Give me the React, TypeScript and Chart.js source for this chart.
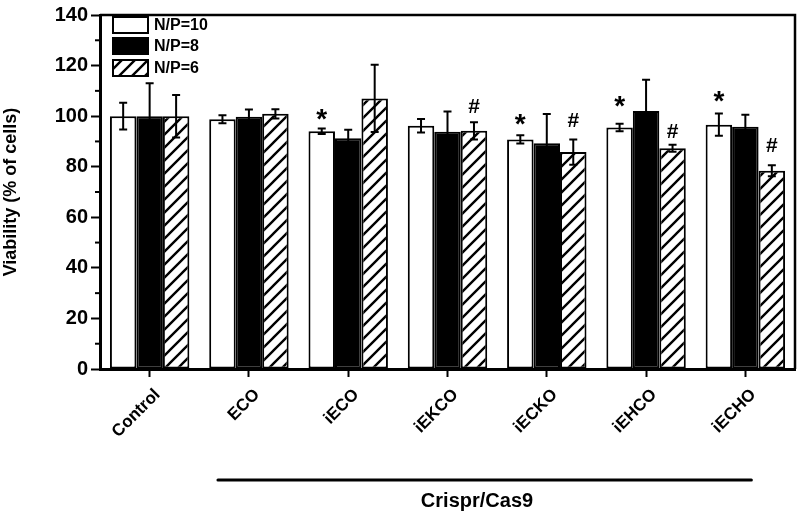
import React, { useEffect, useRef } from "react";
import { Chart, registerables } from "chart.js";

Chart.register(...registerables);

const categories = ["Control", "ECO", "iECO", "iEKCO", "iECKO", "iEHCO", "iECHO"];
const seriesLabels = ["N/P=10", "N/P=8", "N/P=6"];
const np10 = [100, 98.8, 94, 96.2, 90.8, 95.5, 96.6];
const np10Err = [5.3, 1.6, 1.1, 2.7, 1.6, 1.5, 4.4];
const np8 = [100, 99.8, 91.3, 93.8, 89.3, 102, 95.8];
const np8Err = [13, 2.8, 3.3, 8, 11.5, 12.4, 4.8];
const np6 = [100, 100.9, 107, 94.2, 85.8, 87.3, 78.4];
const np6Err = [8.4, 1.8, 13.3, 3.4, 5, 1.4, 2.2];
// significance markers (value positions), null = none
const starAt = [null, null, 100.6, null, 98.7, 105.9, 107.7];
const hashAt = [null, null, null, 104.2, 98.4, 94, 88.5];
const yTicks = [0, 20, 40, 60, 80, 100, 120, 140];
const yMinorTicks = [10, 30, 50, 70, 90, 110, 130];
const yTitle = "Viability (% of cells)";
const groupLabel = "Crispr/Cas9";

const FONT = "'Liberation Sans', Arial, sans-serif";

function makeHatch(): CanvasPattern | string {
  const s = 13;
  const c = document.createElement("canvas");
  c.width = s;
  c.height = s;
  const g = c.getContext("2d");
  if (!g) return "#fff";
  g.fillStyle = "#fff";
  g.fillRect(0, 0, s, s);
  g.strokeStyle = "#000";
  g.lineWidth = 2.4;
  g.beginPath();
  g.moveTo(-2, s + 2);
  g.lineTo(s + 2, -2);
  g.moveTo(-s / 2 - 2, s / 2 + 2);
  g.lineTo(s / 2 + 2, -s / 2 - 2);
  g.moveTo(s / 2 - 2, s * 1.5 + 2);
  g.lineTo(s * 1.5 + 2, s / 2 - 2);
  g.stroke();
  const p = g.createPattern(c, "repeat");
  return p || "#fff";
}

export default function App() {
  const ref = useRef<HTMLCanvasElement | null>(null);

  useEffect(() => {
    const canvas = ref.current;
    if (!canvas) return;
    const hatch = makeHatch();
    const errs = [np10Err, np8Err, np6Err];
    const fills: any[] = ["#ffffff", "#000000", hatch];

    const overlay = {
      id: "overlay",
      afterDatasetsDraw(chart: any) {
        const ctx = chart.ctx;
        const xs = chart.scales.x;
        const ys = chart.scales.y;
        const area = chart.chartArea;
        ctx.save();
        // error bars
        ctx.strokeStyle = "#000";
        ctx.lineWidth = 2;
        chart.data.datasets.forEach((ds: any, di: number) => {
          const meta = chart.getDatasetMeta(di);
          meta.data.forEach((el: any, i: number) => {
            const v = ds.data[i];
            const e = errs[di][i];
            const yt = ys.getPixelForValue(v + e);
            const yb = ys.getPixelForValue(v - e);
            const x = el.x;
            ctx.beginPath();
            ctx.moveTo(x, yt);
            ctx.lineTo(x, yb);
            ctx.moveTo(x - 4, yt);
            ctx.lineTo(x + 4, yt);
            ctx.moveTo(x - 4, yb);
            ctx.lineTo(x + 4, yb);
            ctx.stroke();
          });
        });
        // markers
        ctx.fillStyle = "#000";
        ctx.textAlign = "center";
        ctx.textBaseline = "alphabetic";
        const drawMark = (txt: string, x: number, yc: number) => {
          const m = ctx.measureText(txt);
          const asc = m.actualBoundingBoxAscent || 0;
          const desc = m.actualBoundingBoxDescent || 0;
          ctx.fillText(txt, x, yc + (asc - desc) / 2);
        };
        const m0 = chart.getDatasetMeta(0);
        const m2 = chart.getDatasetMeta(2);
        ctx.font = `bold 28px ${FONT}`;
        starAt.forEach((v, i) => {
          if (v == null) return;
          drawMark("*", m0.data[i].x, ys.getPixelForValue(v));
        });
        ctx.font = `bold 21px ${FONT}`;
        hashAt.forEach((v, i) => {
          if (v == null) return;
          drawMark("#", m2.data[i].x, ys.getPixelForValue(v));
        });
        // frame top & right
        ctx.lineWidth = 2.5;
        ctx.beginPath();
        ctx.moveTo(area.left, area.top);
        ctx.lineTo(area.right, area.top);
        ctx.lineTo(area.right, area.bottom);
        ctx.stroke();
        // minor y ticks
        ctx.lineWidth = 2;
        yMinorTicks.forEach((v) => {
          const y = ys.getPixelForValue(v);
          ctx.beginPath();
          ctx.moveTo(area.left - 5, y);
          ctx.lineTo(area.left, y);
          ctx.stroke();
        });
        // legend
        const lx = area.left + 13;
        const rows = [17, 38, 60];
        ctx.font = `bold 16px ${FONT}`;
        ctx.textAlign = "left";
        ctx.textBaseline = "middle";
        rows.forEach((ry, i) => {
          ctx.fillStyle = fills[i];
          ctx.fillRect(lx, ry, 35, 16);
          ctx.lineWidth = 2;
          ctx.strokeStyle = "#000";
          ctx.strokeRect(lx, ry, 35, 16);
          ctx.fillStyle = "#000";
          ctx.fillText(seriesLabels[i], lx + 41, ry + 9);
        });
        // x labels
        ctx.font = `bold 17px ${FONT}`;
        ctx.textAlign = "right";
        ctx.textBaseline = "middle";
        categories.forEach((c, i) => {
          const x = xs.getPixelForValue(i) + 8;
          const y = area.bottom + 23;
          ctx.save();
          ctx.translate(x, y);
          ctx.rotate(-Math.PI / 4);
          ctx.fillText(c, 0, 0);
          ctx.restore();
        });
        // group bracket
        const x1 = xs.getPixelForValue(1) - 31;
        const x2 = xs.getPixelForValue(6) + 6;
        ctx.lineWidth = 3;
        ctx.lineCap = "round";
        ctx.beginPath();
        ctx.moveTo(x1, 480);
        ctx.lineTo(x2, 480);
        ctx.stroke();
        ctx.font = `bold 20px ${FONT}`;
        ctx.textAlign = "center";
        ctx.textBaseline = "middle";
        ctx.fillText(groupLabel, 477, 501);
        ctx.restore();
      },
    };

    const chart = new Chart(canvas, {
      type: "bar",
      data: {
        labels: categories,
        datasets: [np10, np8, np6].map((d, i) => ({
          label: seriesLabels[i],
          data: d,
          backgroundColor: fills[i],
          borderColor: "#000",
          borderWidth: 2,
          borderSkipped: false,
          categoryPercentage: 0.8,
          barPercentage: 1.0,
        })),
      },
      options: {
        responsive: false,
        animation: false,
        events: [],
        layout: { padding: { top: 11, right: 3, left: 0, bottom: 0 } },
        plugins: {
          legend: { display: false },
          tooltip: { enabled: false },
          title: { display: false },
        },
        scales: {
          x: {
            offset: true,
            grid: {
              offset: false,
              drawOnChartArea: false,
              drawTicks: true,
              tickLength: 8,
              tickWidth: 2,
              tickColor: "#000",
            },
            border: { display: true, width: 3, color: "#000" },
            ticks: { display: false },
            afterFit(scale: any) {
              scale.height = 145;
            },
          },
          y: {
            min: 0,
            max: 140,
            afterBuildTicks(scale: any) {
              scale.ticks = yTicks.map((v) => ({ value: v }));
            },
            grid: {
              drawOnChartArea: false,
              drawTicks: true,
              tickLength: 9,
              tickWidth: 2,
              tickColor: "#000",
            },
            border: { display: true, width: 3, color: "#000" },
            ticks: {
              padding: 3,
              color: "#000",
              font: { family: FONT, size: 20, weight: "bold" },
            },
            title: {
              display: true,
              text: yTitle,
              color: "#000",
              padding: { top: 0, bottom: 0 },
              font: { family: FONT, size: 18, weight: "bold" },
            },
            afterFit(scale: any) {
              scale.width = 100;
            },
          },
        },
      },
      plugins: [overlay],
    });

    return () => chart.destroy();
  }, []);

  return (
    <div style={{ position: "absolute", left: 0, top: 0, width: 798, height: 514, background: "#fff" }}>
      <canvas ref={ref} width={798} height={514} style={{ width: 798, height: 514 }} />
    </div>
  );
}
